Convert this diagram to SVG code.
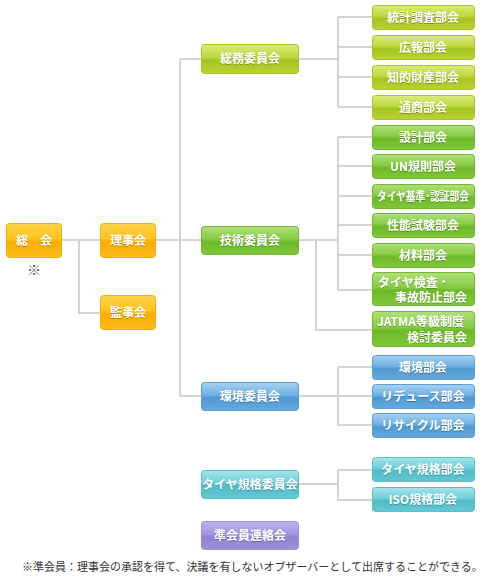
<svg xmlns="http://www.w3.org/2000/svg" width="490" height="580" viewBox="0 0 490 580">
<style>
.t{font-family:"Noto Sans CJK JP","Noto Sans",sans-serif;font-weight:bold;font-size:12px;fill:#fff;text-anchor:middle;filter:url(#sh)}
.ln{fill:none;stroke:#d4d4d4;stroke-width:2}
.b{stroke-width:1}
.or{fill:url(#gOr);stroke:#f2b000}
.li{fill:url(#gLi);stroke:#a9c52a}
.gr{fill:url(#gGr);stroke:#72b832}
.bl{fill:url(#gBl);stroke:#5a9ed4}
.te{fill:url(#gTe);stroke:#5bbfca}
.pu{fill:url(#gPu);stroke:#9a8fd6}
.note{font-family:"Noto Sans CJK JP","Noto Sans",sans-serif;font-size:11px;fill:#333}
</style>
<defs>
<filter id="sh" x="-10%" y="-20%" width="120%" height="140%"><feDropShadow dx="0" dy="0.6" stdDeviation="0.6" flood-color="#000" flood-opacity="0.45"/></filter>
<linearGradient id="gOr" x1="0" y1="0" x2="0" y2="1"><stop offset="0" stop-color="#ffd54a"/><stop offset="0.45" stop-color="#ffc21c"/><stop offset="0.55" stop-color="#f9ad00"/><stop offset="1" stop-color="#ffbe1a"/></linearGradient>
<linearGradient id="gLi" x1="0" y1="0" x2="0" y2="1"><stop offset="0" stop-color="#d9ec7c"/><stop offset="0.45" stop-color="#bcd83c"/><stop offset="0.55" stop-color="#a6c421"/><stop offset="1" stop-color="#b8d433"/></linearGradient>
<linearGradient id="gGr" x1="0" y1="0" x2="0" y2="1"><stop offset="0" stop-color="#b0e07a"/><stop offset="0.45" stop-color="#86cc44"/><stop offset="0.55" stop-color="#6cb928"/><stop offset="1" stop-color="#80c83c"/></linearGradient>
<linearGradient id="gBl" x1="0" y1="0" x2="0" y2="1"><stop offset="0" stop-color="#a8d2f2"/><stop offset="0.45" stop-color="#6cb0e2"/><stop offset="0.55" stop-color="#4f99d3"/><stop offset="1" stop-color="#64a9de"/></linearGradient>
<linearGradient id="gTe" x1="0" y1="0" x2="0" y2="1"><stop offset="0" stop-color="#a6e4ea"/><stop offset="0.45" stop-color="#6ccfd8"/><stop offset="0.55" stop-color="#4fbcc8"/><stop offset="1" stop-color="#64c8d2"/></linearGradient>
<linearGradient id="gPu" x1="0" y1="0" x2="0" y2="1"><stop offset="0" stop-color="#bcb4ec"/><stop offset="0.45" stop-color="#a197e0"/><stop offset="0.55" stop-color="#8e82d4"/><stop offset="1" stop-color="#9c91dc"/></linearGradient>
</defs>

<g id="connectors">
<path class="ln" d="M61 240H100M79 240V313H100"/>
<path class="ln" d="M155 240H201M180 59V396M180 59H201M180 396H201"/>
<path class="ln" d="M298 59H338M338 17V107M338 17H372M338 47H372M338 77H372M338 107H372"/>
<path class="ln" d="M298 240H338M338 137V290M338 137H372M338 166H372M338 196H372M338 225H372M338 255H372M338 290H372M316 240V330H372"/>
<path class="ln" d="M298 396H338M338 367V425H372M338 367H372M338 396H372"/>
<path class="ln" d="M298 484H338M338 470V500H372M338 470H372"/>
</g>

<g id="soukai"><rect class="b or" x="6.5" y="223.5" width="55" height="34" rx="3"/><text class="t" x="34" y="245">総　会</text></g>
<text x="34" y="275" style="font-family:'Noto Sans CJK JP',sans-serif;font-size:14px;fill:#555;text-anchor:middle">※</text>
<g id="rijikai"><rect class="b or" x="100.5" y="223.5" width="55" height="34" rx="3"/><text class="t" x="128" y="245">理事会</text></g>
<g id="kanjikai"><rect class="b or" x="100.5" y="295.5" width="55" height="34" rx="3"/><text class="t" x="128" y="317">監事会</text></g>

<g id="soumu"><rect class="b li" x="201.5" y="44.5" width="97" height="29" rx="3"/><text class="t" x="250" y="63">総務委員会</text></g>
<g id="toukei"><rect class="b li" x="372.5" y="5.5" width="102" height="24" rx="3"/><text class="t" x="423" y="22">統計調査部会</text></g>
<g id="kouhou"><rect class="b li" x="372.5" y="35.5" width="102" height="24" rx="3"/><text class="t" x="423" y="52">広報部会</text></g>
<g id="chiteki"><rect class="b li" x="372.5" y="65.5" width="102" height="24" rx="3"/><text class="t" x="423" y="82">知的財産部会</text></g>
<g id="tsushou"><rect class="b li" x="372.5" y="95.5" width="102" height="24" rx="3"/><text class="t" x="423" y="112">通商部会</text></g>

<g id="gijutsu"><rect class="b gr" x="201.5" y="226.5" width="97" height="28" rx="3"/><text class="t" x="250" y="245">技術委員会</text></g>
<g id="sekkei"><rect class="b gr" x="372.5" y="125.5" width="102" height="24" rx="3"/><text class="t" x="423" y="142">設計部会</text></g>
<g id="un"><rect class="b gr" x="372.5" y="154.5" width="102" height="24" rx="3"/><text class="t" x="423" y="171">UN規則部会</text></g>
<g id="kijun"><rect class="b gr" x="372.5" y="184.5" width="102" height="24" rx="3"/><text class="t" x="423" y="201" textLength="92" lengthAdjust="spacingAndGlyphs">タイヤ基準･認証部会</text></g>
<g id="seinou"><rect class="b gr" x="372.5" y="213.5" width="102" height="24" rx="3"/><text class="t" x="423" y="230">性能試験部会</text></g>
<g id="zairyou"><rect class="b gr" x="372.5" y="243.5" width="102" height="24" rx="3"/><text class="t" x="423" y="260">材料部会</text></g>
<g id="kensa"><rect class="b gr" x="372.5" y="272.5" width="102" height="33" rx="3"/><text class="t" x="378" y="287" style="text-anchor:start">タイヤ検査・</text><text class="t" x="467" y="302" style="text-anchor:end">事故防止部会</text></g>
<g id="jatma"><rect class="b gr" x="372.5" y="311.5" width="102" height="35" rx="3"/><text class="t" x="377" y="326" style="text-anchor:start">JATMA等級制度</text><text class="t" x="467" y="342" style="text-anchor:end">検討委員会</text></g>

<g id="kankyou"><rect class="b bl" x="201.5" y="382.5" width="97" height="28" rx="3"/><text class="t" x="250" y="401">環境委員会</text></g>
<g id="kankyoubu"><rect class="b bl" x="372.5" y="355.5" width="102" height="24" rx="3"/><text class="t" x="423" y="372">環境部会</text></g>
<g id="reduce"><rect class="b bl" x="372.5" y="384.5" width="102" height="24" rx="3"/><text class="t" x="423" y="401">リデュース部会</text></g>
<g id="recycle"><rect class="b bl" x="372.5" y="413.5" width="102" height="24" rx="3"/><text class="t" x="423" y="430">リサイクル部会</text></g>

<g id="kikaku"><rect class="b te" x="201.5" y="470.5" width="97" height="28" rx="3"/><text class="t" x="250" y="489">タイヤ規格委員会</text></g>
<g id="kikakubu"><rect class="b te" x="372.5" y="457.5" width="102" height="24" rx="3"/><text class="t" x="423" y="474">タイヤ規格部会</text></g>
<g id="iso"><rect class="b te" x="372.5" y="487.5" width="102" height="24" rx="3"/><text class="t" x="423" y="504">ISO規格部会</text></g>

<g id="junkaiin"><rect class="b pu" x="201.5" y="521.5" width="97" height="28" rx="3"/><text class="t" x="250" y="540">準会員連絡会</text></g>

<text class="note" x="22" y="571">※準会員：理事会の承認を得て、決議を有しないオブザーバーとして出席することができる。</text>
</svg>
